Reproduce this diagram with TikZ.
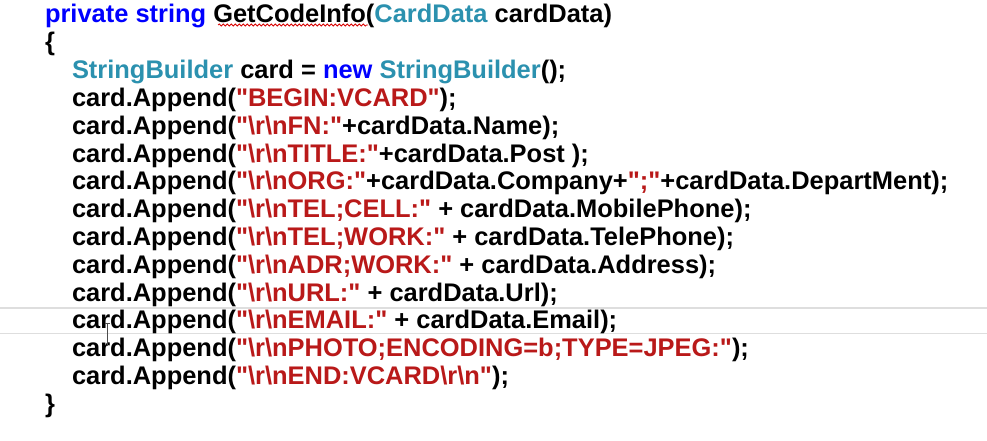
\documentclass[tikz,border=0pt]{standalone}
\usepackage{fontspec}
\setmainfont{Liberation Sans}
\usetikzlibrary{decorations.pathmorphing}
\definecolor{kwblue}{RGB}{0,0,255}
\definecolor{tyteal}{RGB}{43,145,175}
\definecolor{strred}{RGB}{185,25,25}
\definecolor{hlgray}{RGB}{222,222,222}
\newcommand\kw[1]{\textcolor{kwblue}{#1}}
\newcommand\ty[1]{\textcolor{tyteal}{#1}}
\newcommand\st[1]{\textcolor{strred}{\textquotedbl#1\textquotedbl}}
\newcommand\crlf{\textbackslash{}r\textbackslash{}n}
\begin{document}
\begin{tikzpicture}[x=1pt,y=-1pt,
  codeline/.style={anchor=base west,inner sep=0pt,outer sep=0pt,
    font=\fontsize{25.45}{28}\selectfont\bfseries,text=black}]
\useasboundingbox[fill=white] (0,0) rectangle (987,441);
% current-line highlight
\draw[hlgray,line width=1.2pt] (0,308) -- (987,308);
\draw[hlgray,line width=1.2pt] (0,333.5) -- (987,333.5);
\def\lh{27.8}
\node[codeline] (l1) at (45,23) {\kw{private string} GetCodeInfo(\ty{CardData} cardData)};
\node[codeline] (l2) at (45,23+\lh) {\{};
\node[codeline] (l3) at (72,23+2*\lh) {\ty{StringBuilder} card = \kw{new} \ty{StringBuilder}();};
\node[codeline] (l4) at (72,23+3*\lh) {card.Append(\st{BEGIN:VCARD});};
\node[codeline] (l5) at (72,23+4*\lh) {card.Append(\st{\crlf FN:}+cardData.Name);};
\node[codeline] (l6) at (72,23+5*\lh) {card.Append(\st{\crlf TITLE:}+cardData.Post );};
\node[codeline] (l7) at (72,23+6*\lh) {card.Append(\st{\crlf ORG:}+cardData.Company+\st{;}+cardData.DepartMent);};
\node[codeline] (l8) at (72,23+7*\lh) {card.Append(\st{\crlf TEL;CELL:} + cardData.MobilePhone);};
\node[codeline] (l9) at (72,23+8*\lh) {card.Append(\st{\crlf TEL;WORK:} + cardData.TelePhone);};
\node[codeline] (l10) at (72,23+9*\lh) {card.Append(\st{\crlf ADR;WORK:} + cardData.Address);};
\node[codeline] (l11) at (72,23+10*\lh) {card.Append(\st{\crlf URL:} + cardData.Url);};
\node[codeline] (l12) at (72,23+11*\lh) {card.Append(\st{\crlf EMAIL:} + cardData.Email);};
\node[codeline] (l13) at (72,23+12*\lh) {card.Append(\st{\crlf PHOTO;ENCODING=b;TYPE=JPEG:});};
\node[codeline] (l14) at (72,23+13*\lh) {card.Append(\st{\crlf END:VCARD\crlf});};
\node[codeline] (l15) at (45,23+14*\lh) {\}};
% spell-check squiggle under GetCodeInfo
\draw[red!85!black,line width=0.8pt,decorate,decoration={snake,amplitude=1pt,segment length=4pt}] (218,25) -- (368,25);
% mouse I-beam
\draw[black!70,line width=0.8pt] (107,323) -- (107,346);
\draw[black!70,line width=0.6pt] (104.5,323) -- (109.5,323);
\end{tikzpicture}
\end{document}
